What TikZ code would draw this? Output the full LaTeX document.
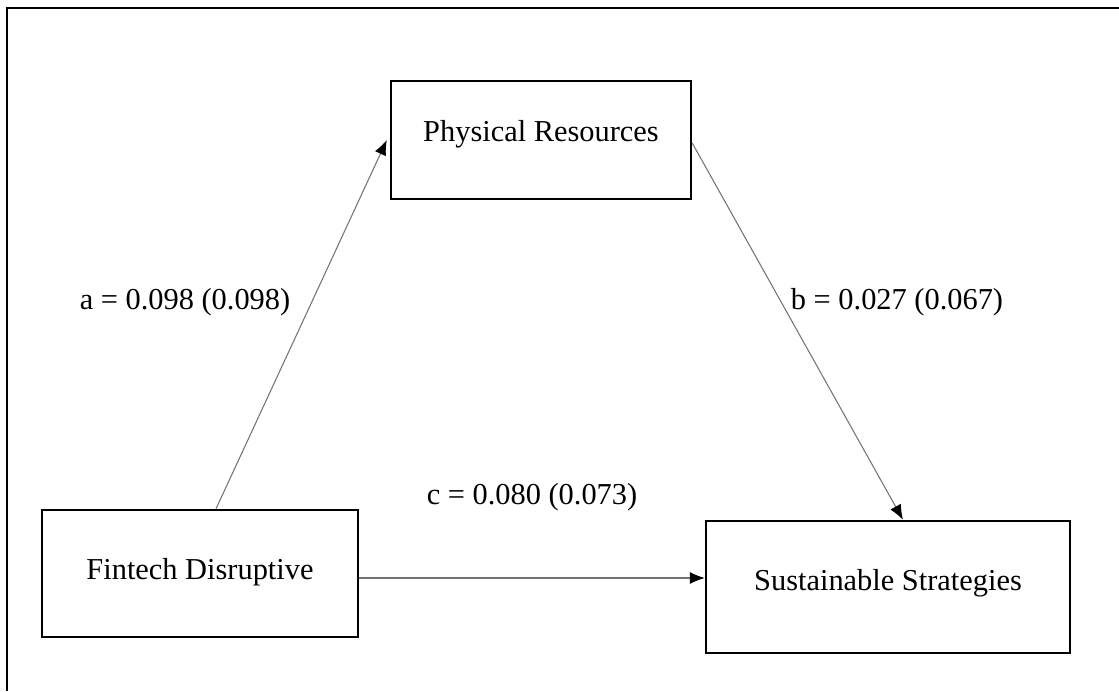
\documentclass[tikz,border=0pt]{standalone}
\usepackage{fontspec}
\setmainfont{Liberation Serif}
\usetikzlibrary{arrows.meta,positioning,calc}

\begin{document}
\begin{tikzpicture}[
        x=0.02cm, y=-0.02cm,
        font=\fontsize{17.3}{20}\selectfont,
        construct/.style={rectangle, draw=black, line width=1.4pt, align=center, inner sep=0pt},
        path/.style={draw=black!55, line width=0.6pt, -{Latex[black, length=0.3cm, width=0.24cm]}}
    ]
    
    % Frame
    \useasboundingbox (0,0) rectangle (1119,691);
    \draw[line width=1.3pt] (7,691) -- (7,8) -- (1119,8);
    
    % Constructs
    \node[construct, minimum width=6cm, minimum height=2.36cm] (phys) at (541,140) {\raisebox{0.37cm}{Physical Resources}};
    \node[construct, minimum width=6.32cm, minimum height=2.54cm] (fin) at (200,573.5) {\raisebox{0.19cm}{Fintech Disruptive}};
    \node[construct, minimum width=7.28cm, minimum height=2.64cm] (sus) at (888,587) {\raisebox{0.3cm}{Sustainable Strategies}};
    
    % Paths
    \draw[path] ([xshift=0.32cm]fin.north) -- ([xshift=-0.06cm]phys.west);
    \draw[path] ([yshift=-0.06cm]phys.east) -- ([xshift=0.3cm]sus.north);
    \draw[path] (fin.east |- 0,578) -- (sus.west |- 0,578);
    
    % Coefficients
    \node (lbla) at (185,302) {a = 0.098 (0.098)};
    \node (lblb) at (897,302) {b = 0.027 (0.067)};
    \node (lblc) at (532,497) {c = 0.080 (0.073)};
    
\end{tikzpicture}
\end{document}
